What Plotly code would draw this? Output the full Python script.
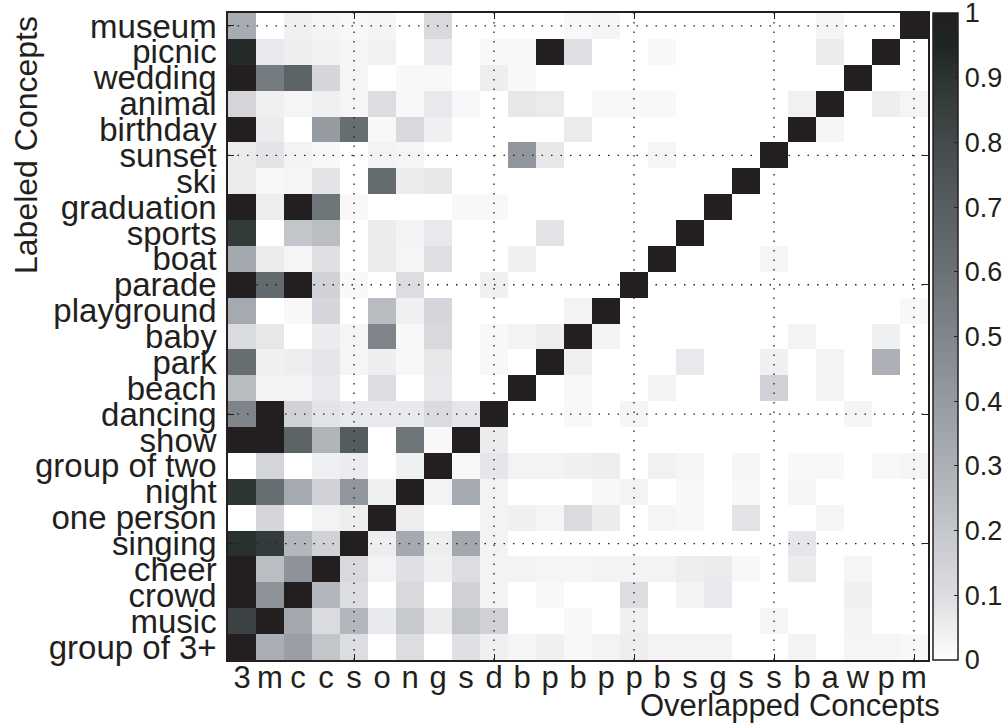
import plotly.graph_objects as go

# ---- categories ----
ROW_LABELS = ["museum", "picnic", "wedding", "animal", "birthday", "sunset", "ski",
              "graduation", "sports", "boat", "parade", "playground", "baby", "park",
              "beach", "dancing", "show", "group of two", "night", "one person",
              "singing", "cheer", "crowd", "music", "group of 3+"]  # top to bottom
COL_LABELS = ["3", "m", "c", "c", "s", "o", "n", "g", "s", "d", "b", "p", "b", "p",
              "p", "b", "s", "g", "s", "s", "b", "a", "w", "p", "m"]  # left to right

# ---- values (one list per labeled concept, columns in COL_LABELS order) ----
museum = [0.32, 0, 0.045, 0.03, 0.02, 0.03, 0, 0.12, 0, 0, 0, 0, 0.02, 0.03, 0, 0, 0, 0, 0, 0, 0, 0.03, 0, 0, 1]
picnic = [0.93, 0.065, 0.05, 0.04, 0.03, 0.04, 0, 0.065, 0, 0.02, 0.02, 1, 0.09, 0, 0, 0.02, 0, 0, 0, 0, 0, 0.055, 0, 1, 0]
wedding = [1, 0.55, 0.67, 0.13, 0.03, 0, 0.02, 0.02, 0, 0.05, 0.02, 0, 0, 0, 0, 0, 0, 0, 0, 0, 0, 0, 1, 0, 0]
animal = [0.135, 0.045, 0.03, 0.045, 0.03, 0.1, 0.02, 0.065, 0.025, 0, 0.07, 0.06, 0, 0.02, 0.02, 0.02, 0, 0, 0, 0, 0.04, 1, 0, 0.05, 0.03]
birthday = [1, 0.06, 0, 0.4, 0.62, 0.02, 0.12, 0.045, 0, 0, 0, 0, 0.06, 0, 0, 0, 0, 0, 0, 0, 1, 0.03, 0, 0, 0]
sunset = [0.06, 0.08, 0.035, 0.02, 0, 0.035, 0.03, 0, 0, 0, 0.42, 0.07, 0, 0, 0, 0.03, 0, 0, 0, 1, 0, 0, 0, 0, 0]
ski = [0.06, 0.02, 0.03, 0.08, 0, 0.63, 0.055, 0.07, 0, 0, 0, 0, 0, 0, 0, 0, 0, 0, 1, 0, 0, 0, 0, 0, 0]
graduation = [1, 0.05, 1, 0.58, 0.02, 0, 0, 0, 0.02, 0.02, 0, 0, 0, 0, 0, 0, 0, 1, 0, 0, 0, 0, 0, 0, 0]
sports = [0.87, 0, 0.21, 0.24, 0, 0.055, 0.035, 0.065, 0, 0, 0, 0.08, 0, 0, 0, 0, 1, 0, 0, 0, 0, 0, 0, 0, 0]
boat = [0.34, 0.055, 0.03, 0.09, 0, 0.06, 0.03, 0.095, 0, 0, 0.045, 0, 0, 0, 0, 1, 0, 0, 0, 0.03, 0, 0, 0, 0, 0]
parade = [1, 0.64, 1, 0.15, 0.02, 0, 0.1, 0, 0, 0.045, 0, 0, 0, 0, 1, 0, 0, 0, 0, 0, 0, 0, 0, 0, 0]
playground = [0.33, 0, 0.02, 0.13, 0, 0.25, 0.045, 0.13, 0, 0, 0, 0, 0.035, 1, 0, 0, 0, 0, 0, 0, 0, 0, 0, 0, 0.02]
baby = [0.11, 0.07, 0, 0.055, 0.03, 0.51, 0.02, 0.12, 0, 0.02, 0.035, 0.05, 1, 0.035, 0, 0, 0, 0, 0, 0, 0.035, 0, 0, 0.045, 0]
park = [0.62, 0.045, 0.05, 0.075, 0.03, 0.05, 0.02, 0.07, 0, 0.02, 0, 1, 0.045, 0, 0, 0, 0.065, 0, 0, 0.045, 0, 0.035, 0, 0.3, 0]
beach = [0.25, 0.035, 0.035, 0.065, 0, 0.1, 0, 0.065, 0, 0, 1, 0, 0.025, 0, 0, 0.035, 0, 0, 0, 0.15, 0, 0.035, 0, 0, 0]
dancing = [0.51, 1, 0.15, 0.08, 0.065, 0.065, 0.065, 0.11, 0.075, 1, 0, 0, 0.02, 0, 0.03, 0, 0, 0, 0, 0, 0, 0, 0.03, 0, 0]
show = [1, 1, 0.67, 0.28, 0.71, 0, 0.58, 0.02, 1, 0.055, 0, 0, 0, 0, 0, 0, 0, 0, 0, 0, 0, 0, 0, 0, 0]
group_of_two = [0, 0.135, 0, 0.045, 0.055, 0, 0.045, 1, 0.02, 0.075, 0.035, 0.035, 0.045, 0.05, 0, 0.04, 0.03, 0, 0.03, 0, 0.02, 0.02, 0, 0.02, 0.03]
night = [0.89, 0.62, 0.33, 0.15, 0.42, 0.045, 1, 0.035, 0.33, 0.035, 0, 0, 0, 0.02, 0.035, 0, 0.02, 0, 0.02, 0, 0.03, 0, 0, 0, 0]
one_person = [0, 0.13, 0, 0.035, 0.05, 1, 0.05, 0, 0, 0.035, 0.045, 0.03, 0.11, 0.055, 0, 0.03, 0.02, 0, 0.08, 0, 0, 0.03, 0, 0, 0]
singing = [0.91, 0.87, 0.27, 0.15, 1, 0.05, 0.33, 0.05, 0.34, 0.035, 0, 0, 0, 0, 0, 0, 0, 0, 0, 0, 0.075, 0, 0, 0, 0]
cheer = [1, 0.24, 0.44, 1, 0.12, 0.035, 0.09, 0.045, 0.1, 0.035, 0.035, 0.03, 0.03, 0.035, 0.035, 0.035, 0.05, 0.06, 0.02, 0, 0.055, 0, 0.03, 0, 0]
crowd = [1, 0.44, 1, 0.27, 0.1, 0, 0.12, 0, 0.15, 0.035, 0, 0.02, 0, 0, 0.1, 0, 0.035, 0.065, 0, 0, 0, 0, 0.045, 0, 0]
music = [0.83, 1, 0.34, 0.11, 0.27, 0.065, 0.19, 0.055, 0.21, 0.15, 0, 0, 0.02, 0, 0.045, 0, 0, 0, 0, 0.03, 0, 0, 0.035, 0, 0]
group_of_3 = [1, 0.31, 0.38, 0.21, 0.1, 0, 0.1, 0, 0.09, 0.045, 0.03, 0.045, 0.02, 0.035, 0.05, 0.035, 0.035, 0.035, 0, 0, 0.035, 0, 0.03, 0.03, 0.02]

ROWS_TOP_TO_BOTTOM = [museum, picnic, wedding, animal, birthday, sunset, ski, graduation,
                      sports, boat, parade, playground, baby, park, beach, dancing, show,
                      group_of_two, night, one_person, singing, cheer, crowd, music, group_of_3]

# colorbar ticks and grid ticks
CB_TICKS = [0, 0.1, 0.2, 0.3, 0.4, 0.5, 0.6, 0.7, 0.8, 0.9, 1]
CB_TICKTEXT = ["0", "0.1", "0.2", "0.3", "0.4", "0.5", "0.6", "0.7", "0.8", "0.9", "1"]
GRID_TICKS = [5, 10, 15, 20, 25]

# colormap (inverted bone-like grey)
CS_STOPS = [0, 0.1, 0.2, 0.3, 0.4, 0.5, 0.6, 0.7, 0.8, 0.9, 0.95, 1.0]
CS_COLORS = ["#ffffff", "#dcdde1", "#c4c7cc", "#acb0b6", "#959ba1", "#80868c",
             "#6b7276", "#575e61", "#444a4b", "#2c3433", "#1e2524", "#231f20"]

# ---- geometry (pixels) ----
W, H = 1002, 726
PL, PR, PT, PB = 228, 928, 13, 660        # plot area
CB_L, CB_W = 933, 25                      # colorbar bar

n = len(COL_LABELS)
xs = list(range(1, n + 1))
ys = list(range(1, len(ROW_LABELS) + 1))
z = ROWS_TOP_TO_BOTTOM[::-1]
y_text = ROW_LABELS[::-1]

INK = "#231f20"
FONT = "Liberation Sans, Arial, Helvetica, sans-serif"
pw, ph = PR - PL, PB - PT

fig = go.Figure(go.Heatmap(
    z=z, x=xs, y=ys, zmin=0, zmax=1,
    colorscale=[[s, c] for s, c in zip(CS_STOPS, CS_COLORS)],
    colorbar=dict(
        thickness=CB_W, thicknessmode="pixels", len=1, lenmode="fraction",
        x=(CB_L - PL) / pw, xanchor="left", y=0.5, yanchor="middle",
        xpad=0, ypad=0, outlinecolor=INK, outlinewidth=1.5,
        tickmode="array", tickvals=CB_TICKS, ticktext=CB_TICKTEXT,
        ticks="inside", ticklen=4, tickcolor=INK, ticklabeloverflow="allow",
        tickfont=dict(family=FONT, size=27, color=INK),
    ),
    hoverinfo="skip",
))

shapes = []
for g in GRID_TICKS:
    shapes.append(dict(type="line", xref="x", yref="y", x0=g, x1=g, y0=0.5, y1=n + 0.5,
                       line=dict(color=INK, width=1.3, dash="1.5px,8px"), layer="above"))
    shapes.append(dict(type="line", xref="x", yref="y", y0=g, y1=g, x0=0.5, x1=n + 0.5,
                       line=dict(color=INK, width=1.3, dash="1.5px,8px"), layer="above"))

axis_common = dict(
    showgrid=False, zeroline=False, showline=True, linecolor=INK, linewidth=1.5,
    mirror="ticks", ticks="", automargin=False,
    minor=dict(tickmode="array", tickvals=GRID_TICKS, ticks="inside", ticklen=6,
               tickcolor=INK, tickwidth=1.3, showgrid=False),
)

annotations = [
    dict(text="Labeled Concepts", xref="paper", yref="paper", x=(26 - PL) / pw,
         y=(PB - 145) / ph, textangle=-90, showarrow=False,
         font=dict(family=FONT, size=32, color=INK), xanchor="center", yanchor="middle"),
    dict(text="Overlapped Concepts", xref="paper", yref="paper", x=(790 - PL) / pw,
         y=(PB - 705) / ph, showarrow=False,
         font=dict(family=FONT, size=31, color=INK), xanchor="center", yanchor="middle"),
]

fig.update_layout(
    template="none",
    width=W, height=H,
    margin=dict(l=PL, r=W - PR, t=PT, b=H - PB, autoexpand=False),
    paper_bgcolor="white", plot_bgcolor="white",
    font=dict(family=FONT, color=INK),
    xaxis=dict(range=[0.5, n + 0.5], tickmode="array", tickvals=xs, ticktext=COL_LABELS,
               tickangle=0, ticklabelstandoff=-11,
               tickfont=dict(family=FONT, size=31, color=INK), **axis_common),
    yaxis=dict(range=[0.5, n + 0.5], tickmode="array", tickvals=ys, ticktext=y_text,
               ticklabelstandoff=3,
               tickfont=dict(family=FONT, size=33, color=INK), **axis_common),
    shapes=shapes,
    annotations=annotations,
)

# place the figure at the page's top-left corner (no default body margin), no toolbar
fig.write_html("out.html", config={"displayModeBar": False},
               post_script="document.body.style.margin='0px';document.body.style.overflow='hidden';")
